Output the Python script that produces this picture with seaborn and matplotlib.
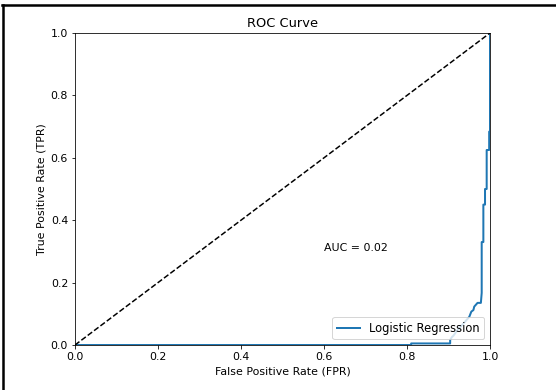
import numpy as np
import pandas as pd
import seaborn as sns
import matplotlib.pyplot as plt
from matplotlib.lines import Line2D

# ROC points (stair corners)
fpr = [0.0, 0.81, 0.81, 0.904, 0.904, 0.908, 0.912, 0.92, 0.93, 0.94, 0.95,
       0.955, 0.96, 0.962, 0.97, 0.978, 0.98, 0.98, 0.984, 0.984, 0.988, 0.988,
       0.992, 0.992, 0.998, 0.998, 1.0, 1.0]
tpr = [0.0, 0.0, 0.005, 0.005, 0.016, 0.025, 0.03, 0.045, 0.06, 0.075, 0.09,
       0.107, 0.112, 0.123, 0.135, 0.135, 0.167, 0.33, 0.33, 0.45, 0.45, 0.50,
       0.50, 0.625, 0.625, 0.684, 0.684, 1.0]
auc_score = 0.02
model_name = "Logistic Regression"

df = pd.DataFrame({"FPR": fpr, "TPR": tpr})

plt.rcParams["font.size"] = 11

fig = plt.figure(figsize=(556 / 72, 390 / 72), dpi=72)
ax = fig.add_axes([75 / 556, 1 - 345 / 390, 415 / 556, 312 / 390])

sns.lineplot(data=df, x="FPR", y="TPR", ax=ax, sort=False, color="#1f77b4",
             linewidth=2, label=model_name, estimator=None)
ax.plot([0, 1], [0, 1], "k--", linewidth=1.5)

ax.set_xlim(0, 1)
ax.set_ylim(0, 1)
ax.set_xlabel("False Positive Rate (FPR)")
ax.set_ylabel("True Positive Rate (TPR)")
ax.set_title("ROC Curve", fontsize=13)
ax.text(0.6, 0.3, f"AUC = {auc_score:.2f}")
ax.legend(loc="lower right", fontsize=11.5)

# border of the screenshot (left and top edges)
fig.add_artist(Line2D([3 / 556, 3 / 556], [0, 1 - 5 / 390], transform=fig.transFigure,
                      color="black", linewidth=2.5))
fig.add_artist(Line2D([2 / 556, 1], [1 - 5 / 390, 1 - 5 / 390], transform=fig.transFigure,
                      color="black", linewidth=2.5))

fig.savefig("out.png", dpi=72)
